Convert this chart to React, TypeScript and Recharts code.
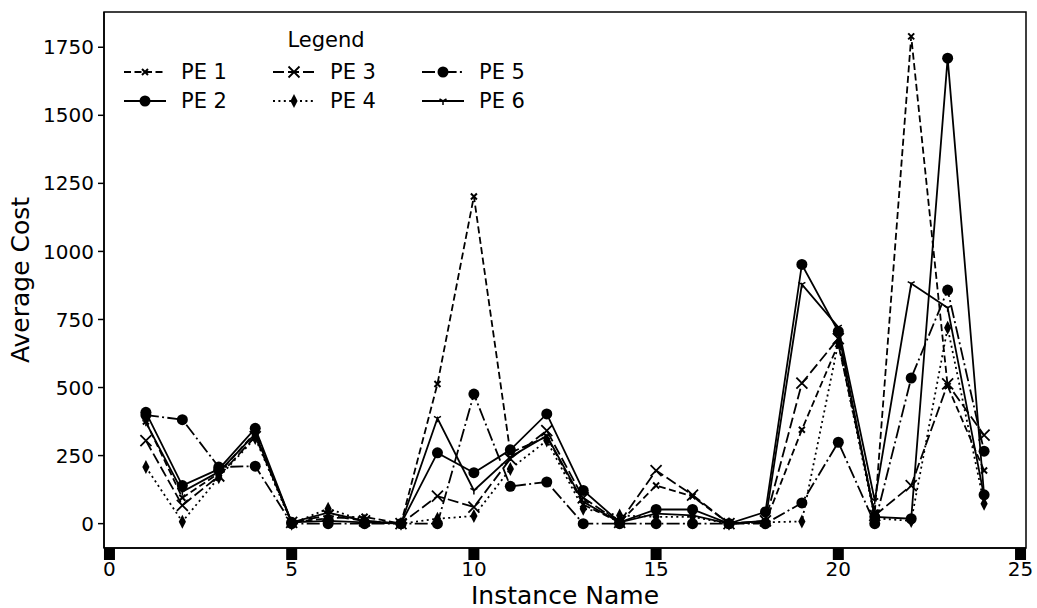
import React from 'react';
import { LineChart, Line, XAxis, YAxis, ReferenceArea } from 'recharts';

// instance index on the x axis
const instances = [1, 2, 3, 4, 5, 6, 7, 8, 9, 10, 11, 12, 13, 14, 15, 16, 17, 18, 19, 20, 21, 22, 23, 24];

// average cost per PE variant
const pe1 = [375, 95, 185, 335, 5, 20, 25, 0, 513, 1202, 260, 320, 70, 5, 140, 100, 0, 5, 345, 660, 40, 1790, 505, 195];
const pe2 = [409, 140, 200, 350, 5, 10, 5, 0, 260, 187, 271, 403, 122, 5, 52, 52, 0, 43, 952, 706, 25, 18, 1710, 106];
const pe3 = [305, 67, 175, 320, 5, 30, 10, 0, 101, 61, 238, 342, 95, 5, 195, 105, 0, 10, 516, 680, 30, 140, 513, 325];
const pe4 = [208, 7, 170, 315, 0, 55, 10, 0, 18, 28, 201, 305, 55, 30, 25, 25, 0, 5, 8, 665, 20, 10, 720, 73];
const pe5 = [399, 382, 208, 211, 0, 0, 0, 0, 0, 476, 137, 153, 0, 0, 0, 0, 0, 0, 76, 299, 0, 535, 858, 266];
const pe6 = [372, 117, 190, 330, 5, 40, 10, 0, 387, 122, 245, 323, 80, 5, 37, 30, 0, 10, 879, 722, 85, 882, 793, 100];

const xTicks = [0, 5, 10, 15, 20, 25];
const yTicks = [0, 250, 500, 750, 1000, 1250, 1500, 1750];

const X_DOMAIN: [number, number] = [-0.15, 25.15];
const Y_DOMAIN: [number, number] = [-89.5, 1879.5];

const FONT = '"DejaVu Sans", sans-serif';

type MarkerKind = 'smallx' | 'circle' | 'bigx' | 'diamond' | 'tri';

const SERIES: { key: string; name: string; dash?: string; marker: MarkerKind }[] = [
  { key: 'pe1', name: 'PE 1', dash: '7 3.5', marker: 'smallx' },
  { key: 'pe2', name: 'PE 2', marker: 'circle' },
  { key: 'pe3', name: 'PE 3', dash: '11 4', marker: 'bigx' },
  { key: 'pe4', name: 'PE 4', dash: '2 3.4', marker: 'diamond' },
  { key: 'pe5', name: 'PE 5', dash: '13 3.3 2 3.3', marker: 'circle' },
  { key: 'pe6', name: 'PE 6', marker: 'tri' },
];

const data = instances.map((x, i) => ({
  x,
  pe1: pe1[i],
  pe2: pe2[i],
  pe3: pe3[i],
  pe4: pe4[i],
  pe5: pe5[i],
  pe6: pe6[i],
}));

function Marker({ cx, cy, kind }: { cx: number; cy: number; kind: MarkerKind }) {
  switch (kind) {
    case 'circle':
      return <circle cx={cx} cy={cy} r={5.5} fill="#000" stroke="none" />;
    case 'smallx':
      return (
        <path
          d={`M${cx - 3},${cy - 3}L${cx + 3},${cy + 3}M${cx - 3},${cy + 3}L${cx + 3},${cy - 3}`}
          stroke="#000"
          strokeWidth={2}
          strokeDasharray="none"
          fill="none"
        />
      );
    case 'bigx':
      return (
        <path
          d={`M${cx - 5.5},${cy - 5.5}L${cx + 5.5},${cy + 5.5}M${cx - 5.5},${cy + 5.5}L${cx + 5.5},${cy - 5.5}`}
          stroke="#000"
          strokeWidth={1.8}
          strokeDasharray="none"
          fill="none"
        />
      );
    case 'diamond':
      return (
        <path
          d={`M${cx},${cy - 7}L${cx + 3.6},${cy}L${cx},${cy + 7}L${cx - 3.6},${cy}Z`}
          fill="#000"
          stroke="none"
        />
      );
    case 'tri':
      return (
        <path
          d={`M${cx},${cy}L${cx},${cy + 4}M${cx},${cy}L${cx - 3.5},${cy - 2}M${cx},${cy}L${cx + 3.5},${cy - 2}`}
          stroke="#000"
          strokeWidth={1.5}
          strokeDasharray="none"
          fill="none"
        />
      );
  }
  return null;
}

const XTick = (props: any) => {
  const { x, y, payload } = props;
  return (
    <g>
      <rect x={x - 5.5} y={y} width={11} height={12} fill="#000" />
      <text x={x} y={y + 28} textAnchor="middle" fontSize={20} fontFamily={FONT} fill="#000">
        {payload.value}
      </text>
    </g>
  );
};

const YLabel = (props: any) => {
  const vb = props.viewBox;
  const cx = vb.x + 20;
  const cy = vb.y + vb.height / 2;
  return (
    <text
      x={cx}
      y={cy}
      transform={`rotate(-90, ${cx}, ${cy})`}
      textAnchor="middle"
      dominantBaseline="central"
      fontSize={25}
      fontFamily={FONT}
      fill="#000"
    >
      Average Cost
    </text>
  );
};

const XLabel = (props: any) => {
  const vb = props.viewBox;
  return (
    <text
      x={vb.x + vb.width / 2}
      y={vb.y + 47}
      textAnchor="middle"
      dominantBaseline="central"
      fontSize={25}
      fontFamily={FONT}
      fill="#000"
    >
      Instance Name
    </text>
  );
};

// legend slots: column handle start, row y
const LEGEND_COLS = [124, 273, 422];
const LEGEND_ROWS = [72, 101];

function ChartLegend() {
  return (
    <svg
      width={1037}
      height={130}
      style={{ position: 'absolute', left: 0, top: 0, pointerEvents: 'none' }}
    >
      <text x={326} y={40} textAnchor="middle" dominantBaseline="central" fontSize={21} fontFamily={FONT}>
        Legend
      </text>
      {SERIES.map((s, i) => {
        const col = Math.floor(i / 2);
        const row = i % 2;
        const x0 = LEGEND_COLS[col];
        const y = LEGEND_ROWS[row];
        return (
          <g key={s.key}>
            <line
              x1={x0}
              y1={y}
              x2={x0 + 42}
              y2={y}
              stroke="#000"
              strokeWidth={2}
              strokeDasharray={s.dash || 'none'}
            />
            <Marker cx={x0 + 21} cy={y} kind={s.marker} />
            <text x={x0 + 57} y={y} dominantBaseline="central" fontSize={21} fontFamily={FONT}>
              {s.name}
            </text>
          </g>
        );
      })}
    </svg>
  );
}

export default function App() {
  return (
    <div style={{ position: 'absolute', left: 0, top: 0, width: 1037, height: 608, background: '#fff' }}>
      <LineChart width={1037} height={608} data={data} margin={{ top: 12, right: 11, bottom: 0, left: 0 }}>
        <XAxis
          dataKey="x"
          type="number"
          domain={X_DOMAIN}
          ticks={xTicks}
          allowDataOverflow
          height={60}
          tickSize={0}
          tickMargin={0}
          tickLine={false}
          axisLine={{ stroke: '#000', strokeWidth: 1.5 }}
          tick={<XTick />}
          label={<XLabel />}
        />
        <YAxis
          type="number"
          domain={Y_DOMAIN}
          ticks={yTicks}
          allowDataOverflow
          width={104}
          tickSize={6}
          tickMargin={4}
          tickLine={{ stroke: '#000', strokeWidth: 1.5 }}
          axisLine={{ stroke: '#000', strokeWidth: 1.5 }}
          tick={{ fontSize: 20, fontFamily: FONT, fill: '#000' }}
          label={<YLabel />}
        />
        {/* plot frame */}
        <ReferenceArea
          x1={X_DOMAIN[0]}
          x2={X_DOMAIN[1]}
          y1={Y_DOMAIN[0]}
          y2={Y_DOMAIN[1]}
          fill="none"
          stroke="#000"
          strokeWidth={1.5}
          ifOverflow="visible"
        />
        {SERIES.map((s) => (
          <Line
            key={s.key}
            type="linear"
            dataKey={s.key}
            name={s.name}
            stroke="#000"
            strokeWidth={1.8}
            strokeDasharray={s.dash}
            isAnimationActive={false}
            activeDot={false}
            dot={(p: any) => <Marker key={`${s.key}-${p.index}`} cx={p.cx} cy={p.cy} kind={s.marker} />}
          />
        ))}
      </LineChart>
      <ChartLegend />
    </div>
  );
}
